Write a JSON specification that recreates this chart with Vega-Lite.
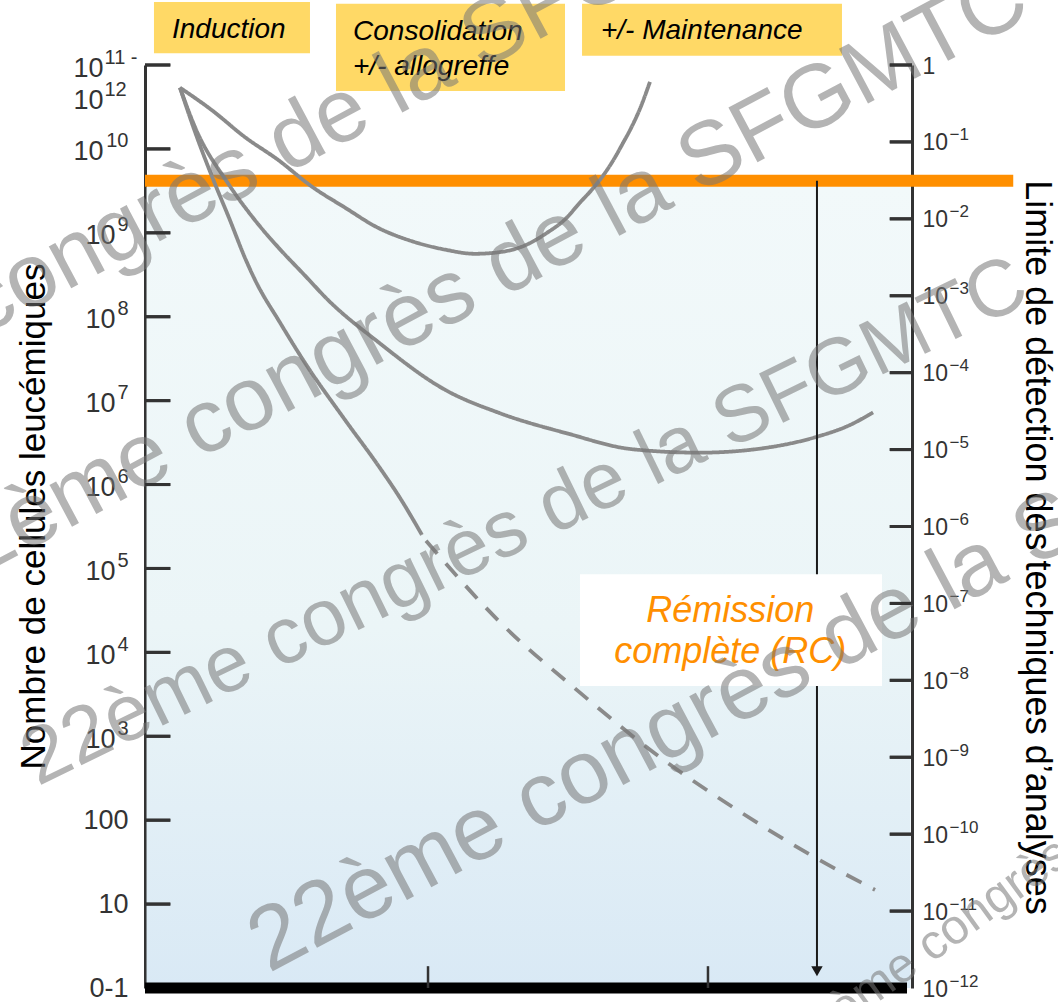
{
  "$schema": "https://vega.github.io/schema/vega-lite/v6.json",
  "width": 767,
  "height": 923,
  "autosize": {"type": "none"},
  "padding": {"left": 145, "top": 65, "right": 146, "bottom": 14},
  "background": "#ffffff",
  "config": {"view": {"stroke": null}, "font": "Liberation Sans", "axis": {"grid": false}},
  "datasets": {
    "decadesLeft": [{"d": 1}, {"d": 2}, {"d": 3}, {"d": 4}, {"d": 5}, {"d": 6}, {"d": 7}, {"d": 8}, {"d": 9}, {"d": 10}, {"d": 11}],
    "decadesRight": [{"r": 0}, {"r": -1}, {"r": -2}, {"r": -3}, {"r": -4}, {"r": -5}, {"r": -6}, {"r": -7}, {"r": -8}, {"r": -9}, {"r": -10}, {"r": -11}],
    "curves": [
      {"series": "Maintenance", "segment": "solide", "t": 4.56, "d": 10.73},
      {"series": "Maintenance", "segment": "solide", "t": 8.74, "d": 10.46},
      {"series": "Maintenance", "segment": "solide", "t": 13.04, "d": 10.14},
      {"series": "Maintenance", "segment": "solide", "t": 17.34, "d": 9.87},
      {"series": "Maintenance", "segment": "solide", "t": 21.77, "d": 9.55},
      {"series": "Maintenance", "segment": "solide", "t": 26.08, "d": 9.30},
      {"series": "Maintenance", "segment": "solide", "t": 30.38, "d": 9.06},
      {"series": "Maintenance", "segment": "solide", "t": 34.81, "d": 8.90},
      {"series": "Maintenance", "segment": "solide", "t": 39.11, "d": 8.80},
      {"series": "Maintenance", "segment": "solide", "t": 43.02, "d": 8.75},
      {"series": "Maintenance", "segment": "solide", "t": 46.28, "d": 8.77},
      {"series": "Maintenance", "segment": "solide", "t": 49.54, "d": 8.85},
      {"series": "Maintenance", "segment": "solide", "t": 52.41, "d": 9.00},
      {"series": "Maintenance", "segment": "solide", "t": 54.76, "d": 9.16},
      {"series": "Maintenance", "segment": "solide", "t": 56.71, "d": 9.36},
      {"series": "Maintenance", "segment": "solide", "t": 58.41, "d": 9.53},
      {"series": "Maintenance", "segment": "solide", "t": 59.71, "d": 9.68},
      {"series": "Maintenance", "segment": "solide", "t": 61.02, "d": 9.86},
      {"series": "Maintenance", "segment": "solide", "t": 62.32, "d": 10.07},
      {"series": "Maintenance", "segment": "solide", "t": 63.49, "d": 10.27},
      {"series": "Maintenance", "segment": "solide", "t": 64.54, "d": 10.48},
      {"series": "Maintenance", "segment": "solide", "t": 65.84, "d": 10.80},
      {"series": "Consolidation", "segment": "solide", "t": 4.56, "d": 10.73},
      {"series": "Consolidation", "segment": "solide", "t": 6.52, "d": 10.26},
      {"series": "Consolidation", "segment": "solide", "t": 10.82, "d": 9.59},
      {"series": "Consolidation", "segment": "solide", "t": 14.34, "d": 9.15},
      {"series": "Consolidation", "segment": "solide", "t": 17.34, "d": 8.83},
      {"series": "Consolidation", "segment": "solide", "t": 20.86, "d": 8.49},
      {"series": "Consolidation", "segment": "solide", "t": 23.86, "d": 8.20},
      {"series": "Consolidation", "segment": "solide", "t": 30.38, "d": 7.70},
      {"series": "Consolidation", "segment": "solide", "t": 39.11, "d": 7.13},
      {"series": "Consolidation", "segment": "solide", "t": 46.28, "d": 6.85},
      {"series": "Consolidation", "segment": "solide", "t": 55.02, "d": 6.61},
      {"series": "Consolidation", "segment": "solide", "t": 63.62, "d": 6.42},
      {"series": "Consolidation", "segment": "solide", "t": 72.36, "d": 6.38},
      {"series": "Consolidation", "segment": "solide", "t": 81.10, "d": 6.44},
      {"series": "Consolidation", "segment": "solide", "t": 87.61, "d": 6.57},
      {"series": "Consolidation", "segment": "solide", "t": 91.92, "d": 6.71},
      {"series": "Consolidation", "segment": "solide", "t": 94.92, "d": 6.86},
      {"series": "Induction", "segment": "solide", "t": 4.56, "d": 10.73},
      {"series": "Induction", "segment": "solide", "t": 6.65, "d": 10.17},
      {"series": "Induction", "segment": "solide", "t": 8.74, "d": 9.67},
      {"series": "Induction", "segment": "solide", "t": 11.08, "d": 9.15},
      {"series": "Induction", "segment": "solide", "t": 13.04, "d": 8.70},
      {"series": "Induction", "segment": "solide", "t": 14.34, "d": 8.44},
      {"series": "Induction", "segment": "solide", "t": 17.60, "d": 7.93},
      {"series": "Induction", "segment": "solide", "t": 20.86, "d": 7.45},
      {"series": "Induction", "segment": "solide", "t": 26.08, "d": 6.77},
      {"series": "Induction", "segment": "solide", "t": 30.38, "d": 6.23},
      {"series": "Induction", "segment": "solide", "t": 33.25, "d": 5.84},
      {"series": "Induction", "segment": "solide", "t": 36.11, "d": 5.40},
      {"series": "Induction", "segment": "pointillé", "t": 36.64, "d": 5.33},
      {"series": "Induction", "segment": "pointillé", "t": 46.28, "d": 4.36},
      {"series": "Induction", "segment": "pointillé", "t": 56.71, "d": 3.52},
      {"series": "Induction", "segment": "pointillé", "t": 67.14, "d": 2.75},
      {"series": "Induction", "segment": "pointillé", "t": 77.58, "d": 2.10},
      {"series": "Induction", "segment": "pointillé", "t": 86.70, "d": 1.59},
      {"series": "Induction", "segment": "pointillé", "t": 95.18, "d": 1.17}
    ],
    "phases": [
      {"phase": "Induction", "label": ["Induction"], "start": 1.17, "end": 21.51, "top": 11.75, "bottom": 11.14, "lx": 3.52, "ly": 11.32},
      {"phase": "Consolidation", "label": ["Consolidation", "+/- allogreffe"], "start": 24.9, "end": 54.76, "top": 11.73, "bottom": 10.69, "lx": 27.12, "ly": 11.30},
      {"phase": "Maintenance", "label": ["+/- Maintenance"], "start": 56.98, "end": 90.87, "top": 11.73, "bottom": 11.11, "lx": 59.45, "ly": 11.31}
    ]
  },
  "layer": [
    {
      "layer": [
        {
          "data": {"values": [{"start": 0.2, "end": 99.8, "low": 0, "high": 9.55}]},
          "mark": {"type": "rect", "fill": {"gradient": "linear", "x1": 0, "y1": 0, "x2": 0, "y2": 1, "stops": [{"offset": 0, "color": "#f2f9fa"}, {"offset": 0.55, "color": "#ebf5f7"}, {"offset": 1, "color": "#d9e9f5"}]}},
          "encoding": {
            "x": {"field": "start", "type": "quantitative", "scale": {"domain": [0, 100], "nice": false, "zero": false}, "axis": null},
            "x2": {"field": "end"},
            "y": {"field": "low", "type": "quantitative", "scale": {"domain": [0, 11], "nice": false, "zero": false}, "axis": null},
            "y2": {"field": "high"}
          }
        },
        {
          "data": {"values": [{"seuil": 9.62, "from": 0, "to": 113.2}]},
          "mark": {"type": "rule", "color": "#ff8f00", "strokeWidth": 12},
          "encoding": {
            "x": {"field": "from", "type": "quantitative", "scale": {"domain": [0, 100], "nice": false, "zero": false}, "axis": null},
            "x2": {"field": "to"},
            "y": {"field": "seuil", "type": "quantitative", "scale": {"domain": [0, 11], "nice": false, "zero": false}, "axis": null}
          }
        },
        {
          "data": {"name": "curves"},
          "mark": {"type": "line", "color": "#8a8a8a", "strokeWidth": 3.8, "interpolate": "monotone", "strokeCap": "butt"},
          "encoding": {
            "x": {"field": "t", "type": "quantitative", "scale": {"domain": [0, 100], "nice": false, "zero": false}, "axis": null},
            "y": {"field": "d", "type": "quantitative", "scale": {"domain": [0, 11], "nice": false, "zero": false}, "axis": null},
            "detail": {"field": "series"},
            "strokeDash": {"field": "segment", "type": "nominal", "scale": {"domain": ["solide", "pointillé"], "range": [[1, 0], [17, 13]]}, "legend": null}
          }
        },
        {
          "data": {"values": [{"t": 87.61, "from": 9.62, "to": 0.2}]},
          "layer": [
            {"mark": {"type": "rule", "color": "#1a1a1a", "strokeWidth": 2},
             "encoding": {
               "x": {"field": "t", "type": "quantitative", "scale": {"domain": [0, 100], "nice": false, "zero": false}, "axis": null},
               "y": {"field": "from", "type": "quantitative", "scale": {"domain": [0, 11], "nice": false, "zero": false}, "axis": null},
               "y2": {"field": "to"}
             }},
            {"mark": {"type": "point", "shape": "triangle-down", "filled": true, "color": "#1a1a1a", "size": 130, "opacity": 1},
             "encoding": {
               "x": {"field": "t", "type": "quantitative", "scale": {"domain": [0, 100], "nice": false, "zero": false}, "axis": null},
               "y": {"field": "to", "type": "quantitative", "scale": {"domain": [0, 11], "nice": false, "zero": false}, "axis": null}
             }}
          ]
        },
        {
          "data": {"values": [{"label": ["Rémission", "complète (RC)"], "x0": 56.71, "x1": 96.09, "y0": 3.6, "y1": 4.93, "tx": 76.3, "ty": 4.362}]},
          "layer": [
            {"mark": {"type": "rect", "fill": "#ffffff"},
             "encoding": {
               "x": {"field": "x0", "type": "quantitative", "scale": {"domain": [0, 100], "nice": false, "zero": false}, "axis": null},
               "x2": {"field": "x1"},
               "y": {"field": "y0", "type": "quantitative", "scale": {"domain": [0, 11], "nice": false, "zero": false}, "axis": null},
               "y2": {"field": "y1"}
             }},
            {"mark": {"type": "text", "fontSize": 36, "fontStyle": "italic", "color": "#ff8f00", "align": "center", "baseline": "alphabetic", "lineHeight": 41},
             "encoding": {
               "x": {"field": "tx", "type": "quantitative", "scale": {"domain": [0, 100], "nice": false, "zero": false}, "axis": null},
               "y": {"field": "ty", "type": "quantitative", "scale": {"domain": [0, 11], "nice": false, "zero": false}, "axis": null},
               "text": {"field": "label"}
             }}
          ]
        },
        {
          "data": {"name": "phases"},
          "layer": [
            {"mark": {"type": "rect", "fill": "#ffd966"},
             "encoding": {
               "x": {"field": "start", "type": "quantitative", "scale": {"domain": [0, 100], "nice": false, "zero": false}, "axis": null},
               "x2": {"field": "end"},
               "y": {"field": "bottom", "type": "quantitative", "scale": {"domain": [0, 11], "nice": false, "zero": false}, "axis": null},
               "y2": {"field": "top"}
             }},
            {"mark": {"type": "text", "fontSize": 28, "fontStyle": "italic", "color": "#000000", "align": "left", "baseline": "alphabetic", "lineHeight": 35},
             "encoding": {
               "x": {"field": "lx", "type": "quantitative", "scale": {"domain": [0, 100], "nice": false, "zero": false}, "axis": null},
               "y": {"field": "ly", "type": "quantitative", "scale": {"domain": [0, 11], "nice": false, "zero": false}, "axis": null},
               "text": {"field": "label"}
             }}
          ]
        },
        {
          "data": {"values": [{"from": 0, "to": 99.35, "d": 0}]},
          "mark": {"type": "rule", "color": "#000000", "strokeWidth": 11},
          "encoding": {
            "x": {"field": "from", "type": "quantitative", "scale": {"domain": [0, 100], "nice": false, "zero": false}, "axis": null},
            "x2": {"field": "to"},
            "y": {"field": "d", "type": "quantitative", "scale": {"domain": [0, 11], "nice": false, "zero": false}, "axis": null}
          }
        },
        {
          "data": {"values": [{"t": 36.9}, {"t": 73.4}]},
          "mark": {"type": "rule", "color": "#333333", "strokeWidth": 2.5},
          "encoding": {
            "x": {"field": "t", "type": "quantitative", "scale": {"domain": [0, 100], "nice": false, "zero": false}, "axis": null},
            "y": {"datum": 0, "type": "quantitative", "scale": {"domain": [0, 11], "nice": false, "zero": false}, "axis": null},
            "y2": {"datum": 0.26}
          }
        },
        {
          "data": {"values": [{"texte": "22ème congrès de la SFGMTC", "t": 14.21, "d": 9.86}, {"texte": "22ème congrès de la SFGMTC", "t": 42.5, "d": 8.39}, {"texte": "22ème congrès de la SFGMTC", "t": 86.18, "d": 3.94}]},
          "mark": {"type": "text", "fontSize": 90, "angle": 332, "color": "#777777", "opacity": 0.55, "align": "center", "baseline": "middle"},
          "encoding": {
            "x": {"field": "t", "type": "quantitative", "scale": {"domain": [0, 100], "nice": false, "zero": false}, "axis": null},
            "y": {"field": "d", "type": "quantitative", "scale": {"domain": [0, 11], "nice": false, "zero": false}, "axis": null},
            "text": {"field": "texte"}
          }
        },
        {
          "data": {"values": [{"texte": "22ème congrès de la SFGMTC", "t": 49.5, "d": 5.55}]},
          "mark": {"type": "text", "fontSize": 80, "angle": 334, "color": "#777777", "opacity": 0.55, "align": "center", "baseline": "middle"},
          "encoding": {
            "x": {"field": "t", "type": "quantitative", "scale": {"domain": [0, 100], "nice": false, "zero": false}, "axis": null},
            "y": {"field": "d", "type": "quantitative", "scale": {"domain": [0, 11], "nice": false, "zero": false}, "axis": null},
            "text": {"field": "texte"}
          }
        },
        {
          "data": {"values": [{"texte": "22ème congrès de la SFGMTC", "t": 119.95, "d": 1.67}]},
          "mark": {"type": "text", "fontSize": 49, "angle": 324, "color": "#777777", "opacity": 0.55, "align": "center", "baseline": "middle"},
          "encoding": {
            "x": {"field": "t", "type": "quantitative", "scale": {"domain": [0, 100], "nice": false, "zero": false}, "axis": null},
            "y": {"field": "d", "type": "quantitative", "scale": {"domain": [0, 11], "nice": false, "zero": false}, "axis": null},
            "text": {"field": "texte"}
          }
        }
      ]
    },
    {
      "data": {"name": "decadesLeft"},
      "mark": {"type": "rule", "color": "#333333", "strokeWidth": 3},
      "encoding": {
        "x": {"datum": 0, "type": "quantitative", "scale": {"domain": [0, 100], "nice": false, "zero": false}, "axis": null},
        "x2": {"datum": 3.3},
        "y": {"field": "d", "type": "quantitative", "scale": {"domain": [0, 11], "nice": false, "zero": false},
          "axis": {
            "orient": "left", "values": [3, 4, 5, 6, 7, 8, 9, 10, 11], "ticks": false,
            "domain": true, "domainColor": "#333333", "domainWidth": 3,
            "labelFontSize": 27, "labelColor": "#333333", "labelAlign": "right", "labelOffset": 3,
            "labelPadding": {"condition": {"test": "datum.value >= 10", "value": 42}, "value": 30},
            "labelLineHeight": 32, "labelOverlap": false, "labelFlush": false, "labelBound": false,
            "labelExpr": "datum.value == 11 ? ['10', '10'] : '10'",
            "title": "Nombre de cellules leucémiques", "titleFontSize": 35, "titleFontWeight": "normal", "titleColor": "#000000",
            "titleAngle": -90, "titleX": -112, "titleY": 451, "titleBaseline": "middle", "titleAlign": "center"
          }}
      }
    },
    {
      "data": {"name": "decadesLeft"},
      "mark": {"type": "rule", "color": "#333333", "strokeWidth": 3},
      "encoding": {
        "x": {"datum": 0, "type": "quantitative", "scale": {"domain": [0, 100], "nice": false, "zero": false}, "axis": null},
        "x2": {"datum": 3.3},
        "y": {"field": "d", "type": "quantitative", "scale": {"domain": [0, 11], "nice": false, "zero": false},
          "axis": {
            "orient": "left", "values": [0, 1, 2, 3, 4, 5, 6, 7, 8, 9, 10, 11], "ticks": false, "domain": false,
            "labelColor": "#333333",
            "labelAlign": {"condition": {"test": "datum.value == 11", "value": "left"}, "value": "right"},
            "labelFontSize": {"condition": {"test": "datum.value <= 2", "value": 27}, "value": 20},
            "labelOffset": {"condition": {"test": "datum.value <= 2", "value": 0}, "value": -8},
            "labelPadding": {"condition": {"test": "datum.value == 11", "value": 41}, "value": 17},
            "labelLineHeight": 32, "labelOverlap": false, "labelFlush": false, "labelBound": false,
            "labelExpr": "['0-1','10','100','3','4','5','6','7','8','9','10',['11 -','12']][datum.value]",
            "title": null
          }}
      }
    },
    {
      "data": {"name": "decadesRight"},
      "mark": {"type": "rule", "color": "#333333", "strokeWidth": 3},
      "encoding": {
        "x": {"datum": 97.1, "type": "quantitative", "scale": {"domain": [0, 100], "nice": false, "zero": false}, "axis": null},
        "x2": {"datum": 100},
        "y": {"field": "r", "type": "quantitative", "scale": {"domain": [-12, 0], "nice": false, "zero": false},
          "axis": {
            "orient": "right", "values": [0, -1, -2, -3, -4, -5, -6, -7, -8, -9, -10, -11, -12], "ticks": false,
            "domain": true, "domainColor": "#333333", "domainWidth": 3,
            "labelFontSize": 23, "labelColor": "#333333", "labelPadding": 10, "labelAlign": "left", "labelOffset": 1,
            "labelOverlap": false, "labelFlush": false, "labelBound": false,
            "labelExpr": "datum.value == 0 ? '1' : '10'",
            "title": "Limite de détection des techniques d’analyses", "titleFontSize": 36, "titleFontWeight": "normal", "titleColor": "#000000",
            "titleAngle": 90, "titleX": 124, "titleY": 482, "titleBaseline": "middle", "titleAlign": "center"
          }}
      }
    },
    {
      "data": {"name": "decadesRight"},
      "mark": {"type": "rule", "color": "#333333", "strokeWidth": 3},
      "encoding": {
        "x": {"datum": 97.1, "type": "quantitative", "scale": {"domain": [0, 100], "nice": false, "zero": false}, "axis": null},
        "x2": {"datum": 100},
        "y": {"field": "r", "type": "quantitative", "scale": {"domain": [-12, 0], "nice": false, "zero": false},
          "axis": {
            "orient": "right", "values": [-1, -2, -3, -4, -5, -6, -7, -8, -9, -10, -11, -12], "ticks": false, "domain": false,
            "labelFontSize": 17, "labelColor": "#333333", "labelPadding": 37, "labelAlign": "left", "labelOffset": -7,
            "labelOverlap": false, "labelFlush": false, "labelBound": false,
            "labelExpr": "format(datum.value, 'd')",
            "title": null
          }}
      }
    }
  ],
  "resolve": {"scale": {"y": "independent"}, "axis": {"y": "independent"}}
}
